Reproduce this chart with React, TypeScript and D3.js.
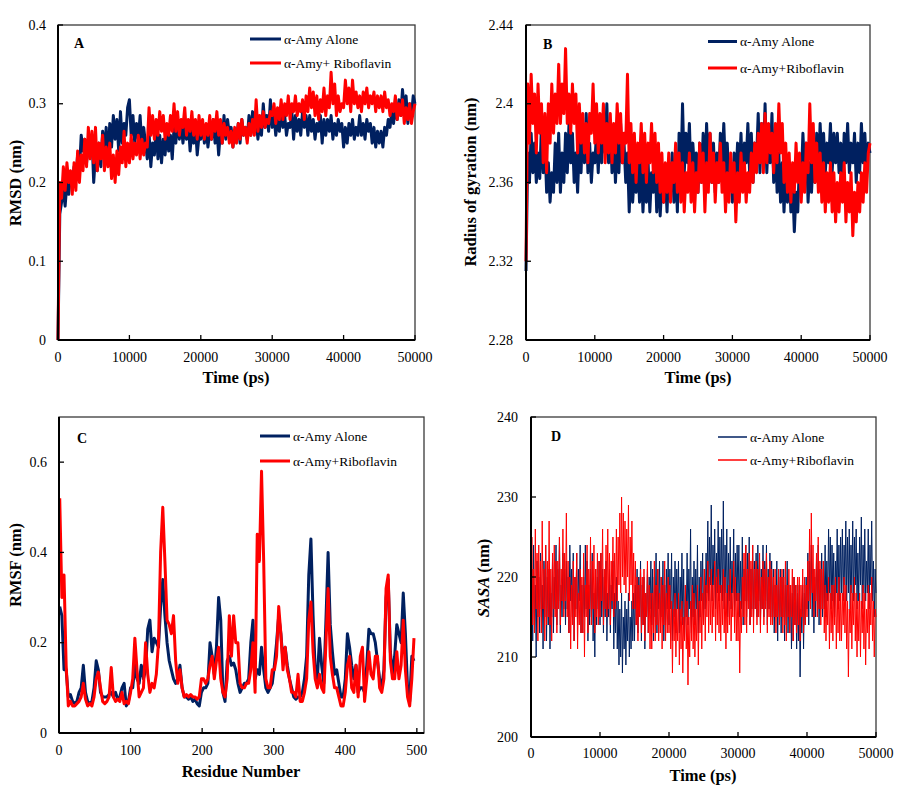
import React from "react";
import * as d3 from "d3";

// ---------- DATA ----------
const timeStepPs = 250; // sampling of the trajectories in A and B
const sasaStepPs = 125; // sampling of the SASA trajectory in D
const timeTicks = [0, 10000, 20000, 30000, 40000, 50000];
const residueStep = 3; // residues 1,4,7,...,496
const residueTicks = [0, 100, 200, 300, 400, 500];

const seriesNames = ["α-Amy Alone", "α-Amy+Riboflavin"];
const seriesNamesA = ["α-Amy Alone", "α-Amy+ Riboflavin"];

// Panel A: RMSD (nm)
const rmsdTicks = [0, 0.1, 0.2, 0.3, 0.4];
const rmsdAlone = [
  0, 0.16, 0.175, 0.19, 0.17, 0.2, 0.185, 0.21, 0.195, 0.22,
  0.205, 0.235, 0.215, 0.26, 0.24, 0.255, 0.225, 0.25, 0.235, 0.26,
  0.2, 0.235, 0.215, 0.25, 0.22, 0.265, 0.24, 0.27, 0.225, 0.275,
  0.245, 0.285, 0.255, 0.28, 0.24, 0.29, 0.25, 0.275, 0.26, 0.295,
  0.305, 0.26, 0.285, 0.25, 0.275, 0.255, 0.285, 0.245, 0.27, 0.25,
  0.23, 0.265, 0.22, 0.25, 0.235, 0.27, 0.23, 0.26, 0.225, 0.255,
  0.235, 0.265, 0.24, 0.26, 0.23, 0.27, 0.25, 0.28, 0.255, 0.275,
  0.25, 0.27, 0.255, 0.275, 0.24, 0.265, 0.25, 0.27, 0.235, 0.26,
  0.255, 0.275, 0.25, 0.27, 0.245, 0.265, 0.255, 0.28, 0.25, 0.27,
  0.235, 0.265, 0.25, 0.285, 0.255, 0.28, 0.26, 0.27, 0.245, 0.265,
  0.255, 0.275, 0.25, 0.28, 0.26, 0.27, 0.255, 0.285, 0.26, 0.29,
  0.265, 0.28, 0.255, 0.275, 0.26, 0.3, 0.27, 0.285, 0.265, 0.305,
  0.27, 0.285, 0.26, 0.28, 0.265, 0.29, 0.27, 0.285, 0.26, 0.275,
  0.27, 0.29, 0.255, 0.285, 0.265, 0.28, 0.26, 0.29, 0.27, 0.285,
  0.26, 0.285, 0.265, 0.28, 0.255, 0.275, 0.265, 0.285, 0.25, 0.28,
  0.26, 0.28, 0.265, 0.285, 0.255, 0.275, 0.26, 0.28, 0.265, 0.275,
  0.245, 0.27, 0.25, 0.275, 0.26, 0.28, 0.255, 0.27, 0.26, 0.285,
  0.26, 0.275, 0.255, 0.28, 0.265, 0.275, 0.25, 0.27, 0.245, 0.265,
  0.25, 0.265, 0.245, 0.27, 0.26, 0.28, 0.27, 0.29, 0.275, 0.3,
  0.28, 0.305, 0.285, 0.318, 0.29, 0.31, 0.275, 0.3, 0.285, 0.31,
  0.3,
];
const rmsdRibo = [
  0, 0.2, 0.18, 0.22, 0.19, 0.225, 0.2, 0.215, 0.185, 0.225,
  0.19, 0.24, 0.2, 0.235, 0.215, 0.255, 0.22, 0.27, 0.23, 0.265,
  0.225, 0.27, 0.215, 0.25, 0.23, 0.26, 0.215, 0.245, 0.22, 0.25,
  0.205, 0.235, 0.2, 0.24, 0.21, 0.245, 0.225, 0.265, 0.22, 0.25,
  0.225, 0.26, 0.23, 0.25, 0.235, 0.26, 0.23, 0.255, 0.235, 0.25,
  0.245, 0.295, 0.26, 0.285, 0.255, 0.28, 0.26, 0.29, 0.265, 0.285,
  0.255, 0.275, 0.26, 0.285, 0.265, 0.3, 0.265, 0.29, 0.26, 0.28,
  0.27, 0.295, 0.26, 0.28, 0.265, 0.29, 0.26, 0.28, 0.255, 0.285,
  0.26, 0.28, 0.255, 0.275, 0.26, 0.285, 0.255, 0.28, 0.265, 0.29,
  0.26, 0.28, 0.25, 0.275, 0.26, 0.27, 0.25, 0.265, 0.245, 0.27,
  0.25, 0.275, 0.255, 0.28, 0.26, 0.27, 0.25, 0.275, 0.26, 0.28,
  0.26, 0.305, 0.265, 0.285, 0.27, 0.29, 0.27, 0.28, 0.275, 0.29,
  0.285, 0.3, 0.275, 0.295, 0.28, 0.305, 0.28, 0.3, 0.285, 0.31,
  0.28, 0.3, 0.29, 0.31, 0.285, 0.3, 0.29, 0.305, 0.28, 0.31,
  0.29, 0.32, 0.295, 0.315, 0.285, 0.31, 0.28, 0.305, 0.29, 0.32,
  0.285, 0.31, 0.295, 0.34, 0.3, 0.325, 0.285, 0.31, 0.29, 0.3,
  0.295, 0.33, 0.3, 0.32, 0.29, 0.33, 0.3, 0.315, 0.295, 0.31,
  0.29, 0.315, 0.3, 0.32, 0.295, 0.31, 0.3, 0.315, 0.29, 0.31,
  0.295, 0.31, 0.29, 0.315, 0.295, 0.305, 0.285, 0.3, 0.29, 0.31,
  0.28, 0.3, 0.285, 0.305, 0.275, 0.295, 0.28, 0.3, 0.275, 0.29,
  0.3,
];

// Panel B: Radius of gyration (nm)
const rgTicks = [2.28, 2.32, 2.36, 2.4, 2.44];
const rgAlone = [
  2.315, 2.375, 2.36, 2.385, 2.365, 2.38, 2.36, 2.375, 2.362, 2.39,
  2.365, 2.38, 2.355, 2.37, 2.35, 2.365, 2.355, 2.38, 2.36, 2.385,
  2.355, 2.375, 2.36, 2.385, 2.365, 2.39, 2.37, 2.385, 2.36, 2.375,
  2.355, 2.38, 2.365, 2.39, 2.37, 2.395, 2.365, 2.38, 2.36, 2.375,
  2.37, 2.385, 2.365, 2.39, 2.37, 2.395, 2.375, 2.4, 2.37, 2.39,
  2.365, 2.385, 2.36, 2.38, 2.365, 2.39, 2.37, 2.38, 2.36, 2.375,
  2.345, 2.37, 2.35, 2.365, 2.355, 2.375, 2.35, 2.37, 2.345, 2.365,
  2.35, 2.37, 2.345, 2.365, 2.355, 2.375, 2.345, 2.37, 2.343, 2.36,
  2.35, 2.365, 2.345, 2.37, 2.355, 2.375, 2.35, 2.37, 2.345, 2.385,
  2.36, 2.4, 2.365, 2.385, 2.37, 2.39, 2.36, 2.38, 2.365, 2.375,
  2.355, 2.38, 2.36, 2.385, 2.36, 2.39, 2.365, 2.385, 2.36, 2.38,
  2.355, 2.375, 2.36, 2.385, 2.37, 2.39, 2.365, 2.38, 2.36, 2.37,
  2.35, 2.375, 2.36, 2.38, 2.365, 2.385, 2.36, 2.38, 2.37, 2.39,
  2.365, 2.385, 2.36, 2.38, 2.37, 2.395, 2.365, 2.39, 2.37, 2.4,
  2.365, 2.385, 2.37, 2.395, 2.36, 2.38, 2.355, 2.375, 2.35, 2.37,
  2.345, 2.365, 2.35, 2.37, 2.345, 2.36, 2.335, 2.355, 2.345, 2.37,
  2.36, 2.385, 2.365, 2.38, 2.35, 2.37, 2.355, 2.375, 2.36, 2.385,
  2.365, 2.39, 2.37, 2.385, 2.365, 2.38, 2.37, 2.39, 2.365, 2.385,
  2.37, 2.385, 2.365, 2.38, 2.36, 2.385, 2.37, 2.39, 2.365, 2.38,
  2.37, 2.385, 2.36, 2.38, 2.365, 2.39, 2.37, 2.385, 2.365, 2.38,
  2.375,
];
const rgRibo = [
  2.32, 2.41, 2.38, 2.415, 2.39, 2.405, 2.375, 2.41, 2.385, 2.4,
  2.37, 2.395, 2.365, 2.4, 2.38, 2.41, 2.385, 2.405, 2.39, 2.42,
  2.39, 2.41, 2.395, 2.428, 2.39, 2.405, 2.385, 2.41, 2.39, 2.405,
  2.375, 2.4, 2.38, 2.395, 2.375, 2.39, 2.37, 2.395, 2.385, 2.41,
  2.38, 2.4, 2.375, 2.395, 2.38, 2.4, 2.37, 2.39, 2.375, 2.395,
  2.37, 2.39, 2.375, 2.4, 2.38, 2.395, 2.37, 2.385, 2.38, 2.415,
  2.37, 2.39, 2.365, 2.385, 2.36, 2.38, 2.37, 2.39, 2.365, 2.385,
  2.36, 2.38, 2.37, 2.39, 2.365, 2.385, 2.36, 2.38, 2.355, 2.375,
  2.35, 2.37, 2.355, 2.375, 2.35, 2.37, 2.36, 2.38, 2.355, 2.375,
  2.35, 2.37, 2.345, 2.365, 2.355, 2.375, 2.35, 2.37, 2.345, 2.365,
  2.355, 2.38, 2.36, 2.375, 2.345, 2.37, 2.355, 2.385, 2.36, 2.375,
  2.35, 2.37, 2.36, 2.38, 2.355, 2.37, 2.345, 2.365, 2.35, 2.375,
  2.355, 2.37, 2.34, 2.365, 2.35, 2.375, 2.355, 2.37, 2.35, 2.365,
  2.355, 2.375, 2.36, 2.38, 2.365, 2.385, 2.37, 2.39, 2.365, 2.395,
  2.37, 2.39, 2.375, 2.385, 2.365, 2.39, 2.37, 2.4, 2.375, 2.39,
  2.36, 2.38, 2.355, 2.375, 2.35, 2.37, 2.355, 2.38, 2.36, 2.375,
  2.35, 2.37, 2.355, 2.38, 2.365, 2.4, 2.37, 2.39, 2.36, 2.38,
  2.355, 2.375, 2.35, 2.37, 2.345, 2.365, 2.35, 2.37, 2.345, 2.365,
  2.34, 2.36, 2.345, 2.365, 2.35, 2.37, 2.34, 2.36, 2.345, 2.365,
  2.333, 2.355, 2.34, 2.36, 2.345, 2.365, 2.35, 2.37, 2.355, 2.375,
  2.38,
];

// Panel C: RMSF (nm) per residue
const rmsfTicks = [0, 0.2, 0.4, 0.6];
const rmsfAlone = [
  0.28, 0.26, 0.14, 0.14, 0.08, 0.085, 0.07, 0.065, 0.07, 0.09,
  0.1, 0.15, 0.09, 0.07, 0.065, 0.07, 0.1, 0.16, 0.14, 0.09,
  0.08, 0.08, 0.08, 0.085, 0.09, 0.08, 0.09, 0.075, 0.08, 0.1,
  0.11, 0.06, 0.07, 0.1, 0.1, 0.15, 0.12, 0.11, 0.15, 0.12,
  0.14, 0.23, 0.25, 0.18, 0.21, 0.2, 0.19, 0.28, 0.34, 0.26,
  0.2, 0.16, 0.14, 0.12, 0.11, 0.12, 0.15, 0.1, 0.08, 0.08,
  0.075, 0.08, 0.07, 0.075, 0.065, 0.06, 0.09, 0.1, 0.1, 0.11,
  0.2, 0.17, 0.13, 0.19, 0.3, 0.25, 0.09, 0.07, 0.16, 0.17,
  0.15, 0.155, 0.14, 0.11, 0.09, 0.1, 0.11, 0.11, 0.12, 0.2,
  0.25, 0.12, 0.14, 0.13, 0.19, 0.14, 0.1, 0.09, 0.1, 0.11,
  0.15, 0.2, 0.26, 0.22, 0.16, 0.19, 0.15, 0.12, 0.1, 0.08,
  0.075, 0.08, 0.08, 0.09, 0.12, 0.17, 0.35, 0.43, 0.26, 0.14,
  0.12, 0.21, 0.15, 0.11, 0.25, 0.4, 0.24, 0.18, 0.13, 0.14,
  0.11, 0.08, 0.08, 0.12, 0.22, 0.19, 0.15, 0.12, 0.15, 0.09,
  0.1, 0.1, 0.09, 0.15, 0.23, 0.22, 0.22, 0.2, 0.16, 0.12,
  0.1, 0.14, 0.3, 0.34, 0.18, 0.13, 0.17, 0.24, 0.22, 0.2,
  0.31, 0.22, 0.1, 0.07, 0.17, 0.16,
];
const rmsfRibo = [
  0.52, 0.3, 0.35, 0.15, 0.06, 0.07, 0.06, 0.06, 0.065, 0.07,
  0.08, 0.11, 0.075, 0.06, 0.065, 0.06, 0.08, 0.12, 0.135, 0.1,
  0.07, 0.065, 0.07, 0.08, 0.145, 0.08, 0.07, 0.075, 0.07, 0.09,
  0.065, 0.07, 0.065, 0.09, 0.12, 0.21, 0.14, 0.08, 0.09, 0.1,
  0.2, 0.13, 0.09, 0.11, 0.1, 0.13, 0.2, 0.4, 0.5, 0.38,
  0.25, 0.24, 0.22, 0.26, 0.16, 0.11, 0.14, 0.1, 0.08, 0.085,
  0.08, 0.085, 0.08, 0.08, 0.075, 0.08, 0.12, 0.12, 0.11, 0.12,
  0.15, 0.17, 0.12, 0.16, 0.19, 0.12, 0.09, 0.08, 0.12, 0.26,
  0.17, 0.26, 0.2, 0.2, 0.11, 0.1, 0.1, 0.11, 0.11, 0.14,
  0.2, 0.09, 0.44, 0.38, 0.58, 0.38, 0.12, 0.1, 0.1, 0.14,
  0.14, 0.17, 0.28, 0.22, 0.14, 0.19, 0.14, 0.12, 0.09, 0.09,
  0.08, 0.13, 0.07, 0.07, 0.09, 0.12, 0.25, 0.29, 0.18, 0.12,
  0.1, 0.13, 0.1, 0.09, 0.2, 0.32, 0.17, 0.13, 0.1, 0.1,
  0.08, 0.06, 0.06, 0.09, 0.15, 0.17, 0.1, 0.09, 0.15, 0.08,
  0.17, 0.19, 0.07, 0.12, 0.18, 0.13, 0.12, 0.17, 0.17, 0.1,
  0.09, 0.12, 0.32, 0.35, 0.16, 0.12, 0.12, 0.18, 0.12, 0.15,
  0.25, 0.14, 0.08, 0.06, 0.12, 0.21,
];

// Panel D: SASA (nm)
const sasaTicks = [200, 210, 220, 230, 240];
const sasaAlone = [
  200, 221, 212, 224, 214, 219, 210, 222, 215, 220,
  213, 223, 216, 219, 211, 222, 215, 224, 212, 220,
  214, 221, 211, 218, 215, 223, 213, 220, 216, 224,
  214, 221, 217, 225, 213, 219, 215, 223, 216, 221,
  214, 222, 216, 220, 213, 224, 217, 221, 215, 223,
  212, 220, 216, 223, 214, 221, 217, 224, 213, 219,
  213, 220, 215, 224, 216, 222, 212, 219, 214, 221,
  215, 223, 212, 218, 210, 221, 214, 220, 216, 222,
  214, 223, 215, 221, 213, 220, 215, 222, 212, 218,
  215, 221, 213, 219, 216, 222, 211, 218, 213, 220,
  211, 217, 209, 216, 210, 218, 208, 215, 211, 217,
  209, 216, 212, 218, 210, 215, 211, 217, 212, 218,
  212, 219, 214, 221, 213, 220, 215, 222, 212, 219,
  214, 220, 211, 218, 215, 221, 213, 220, 216, 222,
  214, 221, 212, 220, 215, 223, 213, 221, 216, 222,
  213, 220, 215, 222, 212, 219, 214, 221, 216, 223,
  214, 221, 216, 223, 212, 220, 215, 222, 213, 221,
  216, 222, 213, 220, 215, 223, 214, 221, 212, 219,
  215, 223, 214, 221, 216, 226, 213, 220, 215, 222,
  214, 221, 216, 224, 213, 220, 215, 222, 217, 223,
  214, 221, 216, 223, 218, 227, 217, 225, 219, 229,
  217, 224, 219, 226, 216, 223, 218, 227, 217, 225,
  218, 226, 217, 229.5, 216, 224, 218, 226, 215, 223,
  217, 225, 216, 222, 218, 226, 215, 223, 217, 224,
  217, 224, 215, 222, 216, 225, 214, 221, 217, 224,
  215, 223, 217, 225, 214, 221, 216, 224, 215, 222,
  216, 223, 215, 224, 217, 222, 214, 221, 216, 224,
  215, 222, 217, 224, 214, 221, 216, 223, 215, 222,
  214, 221, 213, 219, 215, 222, 212, 220, 214, 221,
  213, 220, 215, 221, 212, 219, 214, 222, 213, 219,
  213, 219, 211, 218, 212, 220, 214, 219, 211, 218,
  212, 219, 207.5, 216, 213, 219, 211, 218, 214, 220,
  216, 223, 214, 222, 217, 224, 215, 221, 213, 220,
  215, 222, 217, 224, 214, 221, 216, 223, 215, 222,
  216, 224, 215, 222, 217, 226, 218, 225, 216, 224,
  217, 223, 215, 222, 218, 226, 216, 224, 217, 225,
  218, 226, 217, 224, 219, 227, 217, 225, 218, 226,
  216, 224, 218, 227, 217, 225, 219, 226, 216, 223,
  217, 225, 219, 227.5, 216, 224, 218, 226, 217, 222,
  218, 226, 216, 224, 219, 227, 217, 222, 215, 221,
  218,
];
const sasaRibo = [
  200, 225, 214, 221, 213, 226, 216, 223, 212, 224,
  215, 222, 213, 227, 216, 221, 212, 224, 214, 222,
  215, 227, 214, 221, 212, 223, 216, 224, 215, 222,
  213, 222, 216, 225, 214, 221, 217, 226, 215, 223,
  217, 228, 215, 222, 213, 220, 211, 219, 214, 222,
  212, 220, 215, 223, 211, 218, 214, 221, 213, 220,
  213, 223, 210, 219, 215, 224, 213, 221, 216, 225,
  214, 222, 216, 224, 213, 221, 215, 223, 214, 222,
  215, 223, 217, 226, 214, 221, 216, 224, 215, 226,
  216, 223, 214, 222, 217, 225, 215, 223, 216, 226,
  217, 225, 219, 228, 218, 230, 220, 228, 219, 227,
  218, 226, 220, 229, 217, 225, 219, 227, 216, 223,
  216, 222, 214, 220, 212, 219, 215, 221, 213, 220,
  214, 221, 212, 218, 215, 222, 213, 219, 211, 218,
  211, 218, 213, 222, 212, 219, 214, 221, 212, 218,
  213, 220, 211, 219, 214, 222, 212, 218, 213, 220,
  213, 219, 211, 217, 208, 216, 212, 218, 210, 216,
  212, 218, 209, 216, 211, 217, 208, 215, 212, 219,
  211, 217, 206.5, 215, 210, 217, 212, 219, 211, 218,
  210, 216, 212, 219, 209, 217, 213, 220, 211, 218,
  214, 221, 212, 219, 215, 222, 213, 220, 214, 221,
  213, 219, 215, 222, 212, 220, 214, 221, 213, 219,
  212, 219, 214, 221, 213, 220, 211, 218, 213, 219,
  214, 221, 212, 218, 215, 222, 213, 220, 212, 218,
  212, 218, 208, 217, 213, 220, 215, 223, 214, 224,
  213, 221, 216, 223, 214, 222, 215, 224, 213, 221,
  216, 222, 214, 221, 215, 223, 213, 220, 216, 222,
  214, 221, 216, 223, 213, 220, 215, 222, 214, 221,
  214, 220, 215, 221, 213, 219, 215, 221, 214, 220,
  215, 221, 213, 220, 214, 222, 212, 219, 215, 221,
  213, 219, 215, 221, 212, 220, 214, 219, 213, 220,
  214, 220, 212, 219, 215, 221, 213, 220, 214, 219,
  215, 222, 217, 226, 216, 228, 218, 224, 215, 221,
  217, 223, 215, 225, 216, 222, 214, 221, 216, 222,
  213, 219, 212, 218, 214, 220, 211, 218, 213, 219,
  212, 219, 214, 220, 211, 218, 213, 220, 212, 218,
  212, 218, 214, 220, 213, 219, 211, 217, 207.5, 216,
  213, 219, 211, 218, 214, 220, 212, 218, 210, 217,
  212, 218, 210, 217, 213, 219, 211, 218, 209, 216,
  213, 219, 211, 218, 214, 220, 212, 217, 210, 216,
  215,
];

// ---------- STYLE ----------
const NAVY = "#002060";
const RED = "#FF0000";
const FONT = "'Liberation Serif', 'Times New Roman', serif";

type PanelCfg = {
  letter: string;
  box: { l: number; r: number; t: number; b: number };
  xDomain: [number, number];
  yDomain: [number, number];
  xTicks: number[];
  yTicks: number[];
  xs: number[];
  alone: number[];
  ribo: number[];
  names: string[];
  xTitle: string;
  yTitle: React.ReactNode;
  yTitleX: number;
  yTitleY: number;
  xTitleY: number;
  xTitleX: number;
  xLabelY: number;
  yLabelRight: number;
  letterPos: [number, number];
  legend: { x1: number; x2: number; y1: number; y2: number; w: number };
  lineW: number;
};

const timeXs = (n: number, step: number) => d3.range(n).map((i) => i * step);
const resXs = (n: number) => d3.range(n).map((i) => 1 + i * residueStep);

const panels: PanelCfg[] = [
  {
    letter: "A",
    box: { l: 58, r: 415, t: 25, b: 340 },
    xDomain: [0, 50000],
    yDomain: [0, 0.4],
    xTicks: timeTicks,
    yTicks: rmsdTicks,
    xs: timeXs(rmsdAlone.length, timeStepPs),
    alone: rmsdAlone,
    ribo: rmsdRibo,
    names: seriesNamesA,
    xTitle: "Time (ps)",
    yTitle: "RMSD (nm)",
    yTitleX: 21,
    yTitleY: 183,
    xTitleX: 236,
    xTitleY: 383,
    xLabelY: 362,
    yLabelRight: 46,
    letterPos: [74, 48],
    legend: { x1: 250, x2: 281, y1: 39, y2: 63, w: 3 },
    lineW: 3,
  },
  {
    letter: "B",
    box: { l: 526, r: 870, t: 25, b: 340 },
    xDomain: [0, 50000],
    yDomain: [2.28, 2.44],
    xTicks: timeTicks,
    yTicks: rgTicks,
    xs: timeXs(rgAlone.length, timeStepPs),
    alone: rgAlone,
    ribo: rgRibo,
    names: seriesNames,
    xTitle: "Time (ps)",
    yTitle: "Radius of gyration (nm)",
    yTitleX: 476,
    yTitleY: 182,
    xTitleX: 698,
    xTitleY: 383,
    xLabelY: 362,
    yLabelRight: 513,
    letterPos: [543, 49],
    legend: { x1: 708, x2: 737, y1: 41.5, y2: 68, w: 3 },
    lineW: 3,
  },
  {
    letter: "C",
    box: { l: 59, r: 424, t: 417, b: 733 },
    xDomain: [0, 510],
    yDomain: [0, 0.7],
    xTicks: residueTicks,
    yTicks: rmsfTicks,
    xs: resXs(rmsfAlone.length),
    alone: rmsfAlone,
    ribo: rmsfRibo,
    names: seriesNames,
    xTitle: "Residue Number",
    yTitle: "RMSF (nm)",
    yTitleX: 21,
    yTitleY: 565,
    xTitleX: 241,
    xTitleY: 777,
    xLabelY: 755,
    yLabelRight: 47,
    letterPos: [77, 443],
    legend: { x1: 260, x2: 290, y1: 436, y2: 461, w: 3 },
    lineW: 3,
  },
  {
    letter: "D",
    box: { l: 531, r: 876, t: 417, b: 737 },
    xDomain: [0, 50000],
    yDomain: [200, 240],
    xTicks: timeTicks,
    yTicks: sasaTicks,
    xs: timeXs(sasaAlone.length, sasaStepPs),
    alone: sasaAlone,
    ribo: sasaRibo,
    names: seriesNames,
    xTitle: "Time (ps)",
    yTitle: (
      <>
        <tspan fontStyle="italic">SASA</tspan> (nm)
      </>
    ),
    yTitleX: 489,
    yTitleY: 578,
    xTitleX: 703,
    xTitleY: 781,
    xLabelY: 758,
    yLabelRight: 518,
    letterPos: [551, 441],
    legend: { x1: 718, x2: 747, y1: 437, y2: 460, w: 1.5 },
    lineW: 1,
  },
];

function Panel({ p }: { p: PanelCfg }) {
  const x = d3.scaleLinear().domain(p.xDomain).range([p.box.l, p.box.r]);
  const y = d3.scaleLinear().domain(p.yDomain).range([p.box.b, p.box.t]);
  const line = d3
    .line<number>()
    .x((_, i) => x(p.xs[i]))
    .y((d) => y(d));
  const tickLen = 5;
  return (
    <g>
      <rect
        x={p.box.l}
        y={p.box.t}
        width={p.box.r - p.box.l}
        height={p.box.b - p.box.t}
        fill="none"
        stroke="#3a3a3a"
        strokeWidth={1.3}
      />
      <path d={line(p.alone) || ""} fill="none" stroke={NAVY} strokeWidth={p.lineW} strokeLinejoin="round" />
      <path d={line(p.ribo) || ""} fill="none" stroke={RED} strokeWidth={p.lineW} strokeLinejoin="round" />
      <line x1={p.box.l} x2={p.box.l} y1={p.box.t} y2={p.box.b} stroke="#000" strokeWidth={2} />
      <line x1={p.box.l} x2={p.box.r} y1={p.box.b} y2={p.box.b} stroke="#000" strokeWidth={2} />
      {p.yTicks.map((t) => (
        <g key={"y" + t}>
          <line x1={p.box.l} x2={p.box.l + tickLen} y1={y(t)} y2={y(t)} stroke="#000" strokeWidth={1.3} />
          <text
            x={p.yLabelRight}
            y={y(t)}
            textAnchor="end"
            dominantBaseline="central"
            fontFamily={FONT}
            fontSize={14}
            fill="#000"
          >
            {String(t)}
          </text>
        </g>
      ))}
      {p.xTicks.map((t) => (
        <g key={"x" + t}>
          <line x1={x(t)} x2={x(t)} y1={p.box.b} y2={p.box.b - tickLen} stroke="#000" strokeWidth={1.3} />
          <text x={x(t)} y={p.xLabelY} textAnchor="middle" fontFamily={FONT} fontSize={14} fill="#000">
            {t}
          </text>
        </g>
      ))}
      <text
        x={p.xTitleX}
        y={p.xTitleY}
        textAnchor="middle"
        fontFamily={FONT}
        fontWeight="bold"
        fontSize={16.5}
        fill="#000"
      >
        {p.xTitle}
      </text>
      <text
        transform={`translate(${p.yTitleX},${p.yTitleY}) rotate(-90)`}
        textAnchor="middle"
        fontFamily={FONT}
        fontWeight="bold"
        fontSize={16.5}
        fill="#000"
      >
        {p.yTitle}
      </text>
      <text x={p.letterPos[0]} y={p.letterPos[1]} fontFamily={FONT} fontWeight="bold" fontSize={14} fill="#000">
        {p.letter}
      </text>
      <line x1={p.legend.x1} x2={p.legend.x2} y1={p.legend.y1} y2={p.legend.y1} stroke={NAVY} strokeWidth={p.legend.w} />
      <line x1={p.legend.x1} x2={p.legend.x2} y1={p.legend.y2} y2={p.legend.y2} stroke={RED} strokeWidth={p.legend.w} />
      <text x={p.legend.x2 + 3} y={p.legend.y1} dominantBaseline="central" fontFamily={FONT} fontSize={13.5} fill="#000">
        {p.names[0]}
      </text>
      <text x={p.legend.x2 + 3} y={p.legend.y2} dominantBaseline="central" fontFamily={FONT} fontSize={13.5} fill="#000">
        {p.names[1]}
      </text>
    </g>
  );
}

export default function App() {
  return (
    <svg width={905} height={805} style={{ position: "absolute", left: 0, top: 0, background: "#fff" }}>
      <rect x={0} y={0} width={905} height={805} fill="#fff" />
      {panels.map((p) => (
        <Panel key={p.letter} p={p} />
      ))}
    </svg>
  );
}
